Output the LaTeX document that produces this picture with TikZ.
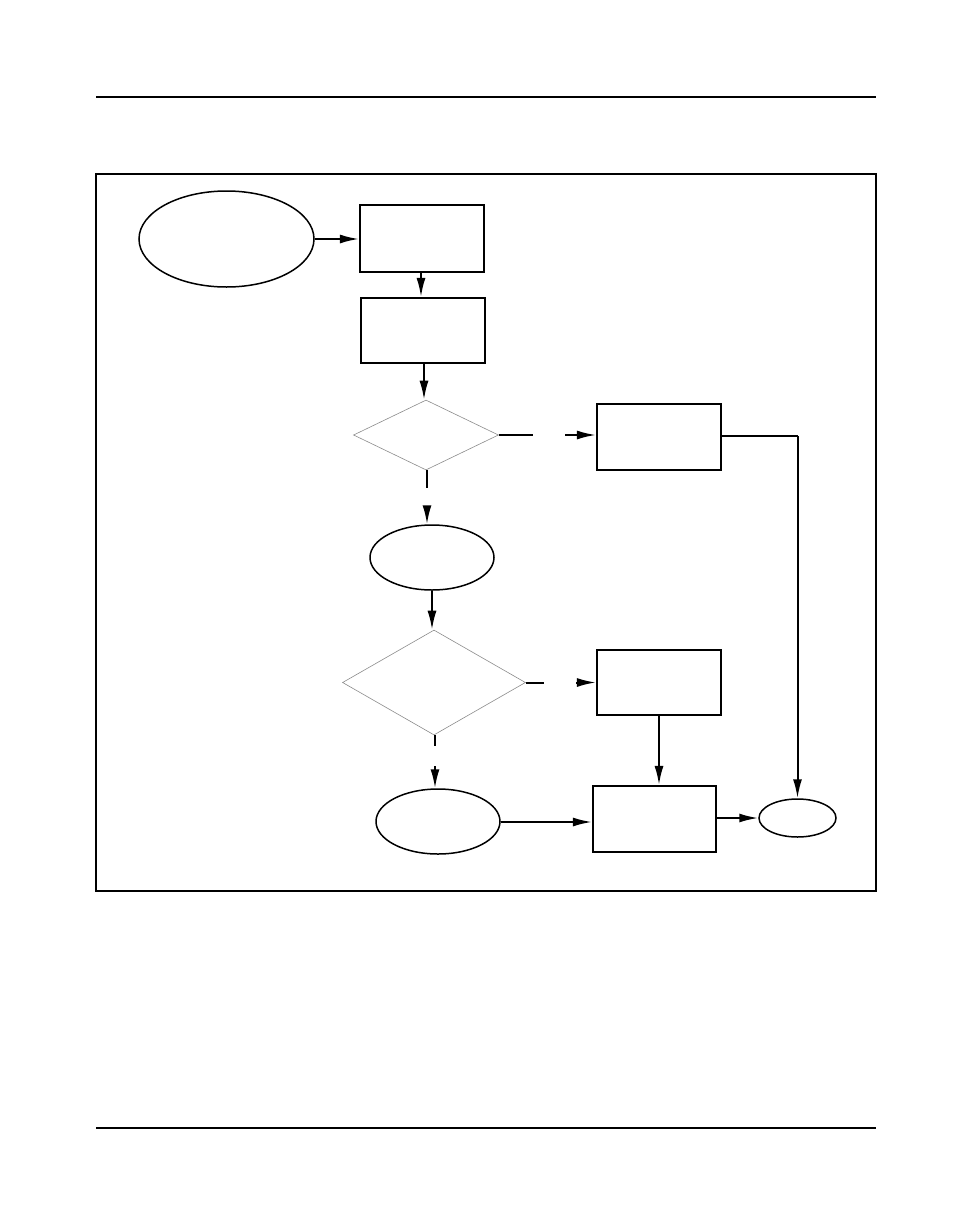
\documentclass[tikz,border=0pt]{standalone}
\usetikzlibrary{shapes.geometric,arrows.meta}
\begin{document}
\begin{tikzpicture}[x=1pt,y=-1pt,
  boxnode/.style={draw,line width=2.2pt,rectangle,inner sep=0pt},
  ovalnode/.style={draw,line width=1.5pt,ellipse,inner sep=0pt},
  decnode/.style={draw=black!45,line width=0.6pt,diamond,inner sep=0pt},
  conn/.style={line width=2pt},
  arr/.style={line width=2pt,-{Latex[length=19pt,width=9pt]}}]
\useasboundingbox[fill=white] (0,0) rectangle (972,1224);
% page rules and frame
\draw[line width=1.3pt] (96,97) -- (876,97);
\draw[line width=1.3pt] (96,1128) -- (876,1128);
\draw[line width=1.2pt] (96,174) rectangle (876,891);
% nodes
\node[ovalnode,minimum width=175pt,minimum height=96pt] (start) at (226.5,239) {};
\node[boxnode,minimum width=124pt,minimum height=67pt] (b1) at (422,238.5) {};
\node[boxnode,minimum width=124pt,minimum height=65pt] (b2) at (423,330.5) {};
\node[decnode,minimum width=145pt,minimum height=70pt] (d1) at (426,435) {};
\node[boxnode,minimum width=124pt,minimum height=66pt] (b3) at (659,437) {};
\node[ovalnode,minimum width=124pt,minimum height=65pt] (e2) at (432,557.5) {};
\node[decnode,minimum width=183pt,minimum height=105pt] (d2) at (434,682.5) {};
\node[boxnode,minimum width=124pt,minimum height=65pt] (b4) at (659,682.5) {};
\node[boxnode,minimum width=123pt,minimum height=66pt] (b5) at (654.5,819) {};
\node[ovalnode,minimum width=124pt,minimum height=65pt] (e3) at (438,821.5) {};
\node[ovalnode,minimum width=77pt,minimum height=38pt] (end) at (797.5,818) {};
% stub coordinates
\coordinate (d1r) at (533,435);
\coordinate (d1a) at (565,435);
\coordinate (d1b) at (427,488);
\coordinate (d1c) at (427,506);
\coordinate (d2r) at (544,682.5);
\coordinate (d2a) at (576,682.5);
\coordinate (d2b) at (435,746);
\coordinate (d2c) at (435,766);
\coordinate (turn) at (797.5,436);
% connectors
\draw[arr] (start.east |- 0,239) -- (b1.west |- 0,239);
\draw[arr] (b1.south -| 421,0) -- (b2.north -| 421,0);
\draw[arr] (b2.south -| 424,0) -- (d1.north -| 424,0);
\draw[conn] (d1.east) -- (d1r);
\draw[arr] (d1a) -- (d1a -| b3.west);
\draw[conn] (d1.south -| d1b) -- (d1b);
\draw[arr] (d1c) -- (e2.north -| d1c);
\draw[arr] (e2.south) -- (e2.south |- d2.north);
\draw[conn] (d2.east) -- (d2r);
\draw[arr] (d2a) -- (d2a -| b4.west);
\draw[conn] (d2.south -| d2b) -- (d2b);
\draw[arr] (d2c) -- (e3.north -| d2c);
\draw[arr] (b4.south) -- (b4.south |- b5.north);
\draw[arr] (e3.east |- 0,822) -- (b5.west |- 0,822);
\draw[arr] (b5.east |- 0,818) -- (end.west);
\draw[conn] (b3.east |- turn) -- (turn);
\draw[arr] (turn) -- (end.north);
\end{tikzpicture}
\end{document}
